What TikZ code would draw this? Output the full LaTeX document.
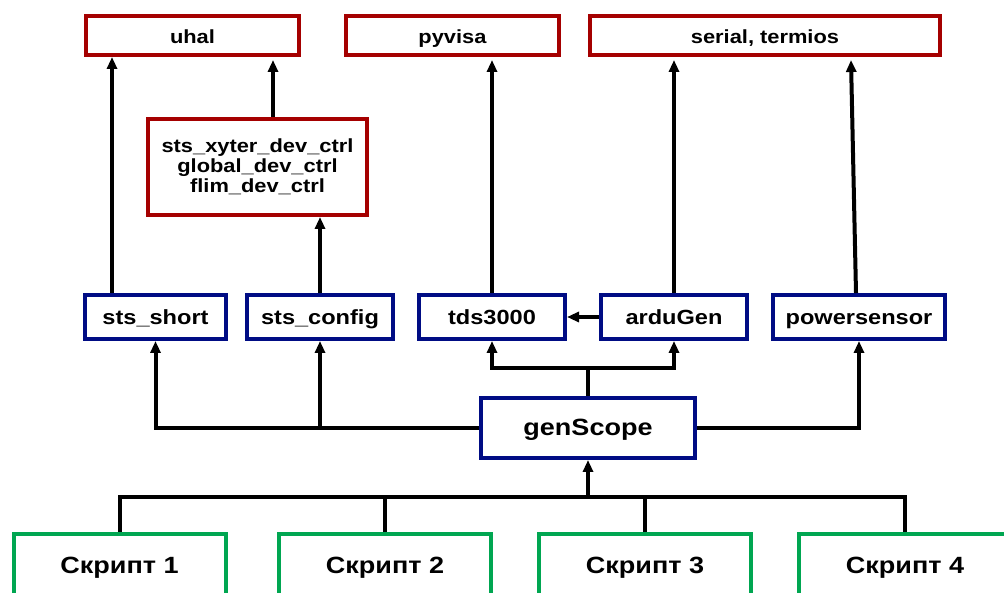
\documentclass[tikz,border=0pt]{standalone}
\usepackage{fontspec}
\newfontfamily\lblfont{Liberation Sans}[FakeStretch=1.15]
\usepackage{tikz}
\usetikzlibrary{arrows.meta,positioning,calc}
\definecolor{libred}{HTML}{A50000}
\definecolor{modblue}{HTML}{000C84}
\definecolor{scriptgreen}{HTML}{00A651}
\tikzset{
  libbox/.style={rectangle,draw=libred,line width=4pt,fill=white,inner sep=0pt,
    font=\lblfont\bfseries\fontsize{19}{20}\selectfont,align=center,minimum height=39pt,
    text height=15.5pt,text depth=0pt},
  modbox/.style={rectangle,draw=modblue,line width=4pt,fill=white,inner sep=0pt,
    font=\lblfont\bfseries\fontsize{20.5}{22}\selectfont,align=center,minimum height=44pt,
    text height=16pt,text depth=0pt},
  scriptbox/.style={rectangle,draw=scriptgreen,line width=4pt,fill=white,inner sep=0pt,
    font=\lblfont\bfseries\fontsize{23.5}{25}\selectfont,minimum width=212pt,minimum height=64pt,
    text height=17pt,text depth=3pt},
  myarrow/.style={-{Triangle[length=12pt,width=10pt]},line width=4pt},
  busline/.style={line width=4pt},
}
\begin{document}
\begin{tikzpicture}[x=1pt,y=1pt]
  \useasboundingbox (0,0) rectangle (1004,592);
  \clip (0,0) rectangle (1004,592);
  % libraries
  \node[libbox,minimum width=213pt] (uhal) at (192.5,556.5) {uhal};
  \node[libbox,minimum width=213pt] (pyvisa) at (452.5,556.5) {pyvisa};
  \node[libbox,minimum width=350pt] (serial) at (765,556.5) {serial, termios};
  \node[libbox,minimum width=219pt,minimum height=96pt,text height={},text depth={}] (devctrl) at (257.5,425)
    {sts\_xyter\_dev\_ctrl\\global\_dev\_ctrl\\flim\_dev\_ctrl};
  % modules
  \node[modbox,minimum width=141pt] (short) at (155.5,275) {sts\_short};
  \node[modbox,minimum width=146pt] (config) at (320,275) {sts\_config};
  \node[modbox,minimum width=146pt] (tds) at (492,275) {tds3000};
  \node[modbox,minimum width=146pt] (ardu) at (674,275) {arduGen};
  \node[modbox,minimum width=172pt] (power) at (859,275) {powersensor};
  \node[modbox,minimum width=214pt,minimum height=60pt,text height=17pt,text depth=1.5pt,
    font=\lblfont\bfseries\fontsize{23.5}{25}\selectfont] (gen) at (588,164) {genScope};
  % scripts
  \node[scriptbox] (s1) at (119.5,26) {Скрипт 1};
  \node[scriptbox] (s2) at (385,26) {Скрипт 2};
  \node[scriptbox] (s3) at (645,26) {Скрипт 3};
  \node[scriptbox] (s4) at (905,26) {Скрипт 4};
  \coordinate (split) at (588,224);
  \coordinate (bus) at (588,95);
  % upper links
  \draw[myarrow] ([xshift=-43.5pt]short.north) -- ([xshift=-43.5pt]short.north |- uhal.south);
  \draw[myarrow] ([xshift=15.5pt]devctrl.north) -- ([xshift=15.5pt,yshift=-3pt]devctrl.north |- uhal.south);
  \draw[myarrow] (config.north) -- (config.north |- devctrl.south);
  \draw[myarrow] (tds.north) -- ([yshift=-3pt]tds.north |- pyvisa.south);
  \draw[myarrow] (ardu.north) -- ([yshift=-3pt]ardu.north |- serial.south);
  \draw[myarrow] ([xshift=-3pt]power.north) -- ([xshift=-8pt,yshift=-3pt]power.north |- serial.south);
  \draw[myarrow] (ardu.west) -- (tds.east);
  % genScope links
  \draw[busline] (gen.north) -- (split);
  \draw[myarrow] (split) -| (tds.south);
  \draw[myarrow] (split) -| (ardu.south);
  \draw[myarrow] (gen.west) -| (short.south);
  \draw[myarrow] (gen.west -| config.south) -- (config.south);
  \draw[myarrow] (gen.east) -| (power.south);
  % scripts bus
  \draw[busline] (s1.north) |- (s4.north |- bus) -- (s4.north);
  \draw[busline] (s2.north) -- (s2.north |- bus);
  \draw[busline] (s3.north) -- (s3.north |- bus);
  \draw[myarrow] (bus) -- (gen.south);
\end{tikzpicture}
\end{document}
